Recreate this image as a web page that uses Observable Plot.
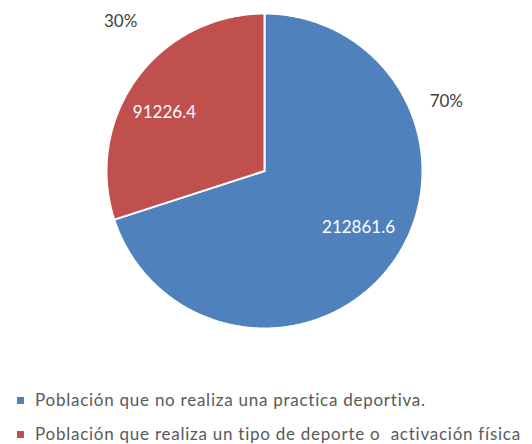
<!DOCTYPE html>
<html>
<head>
<meta charset="utf-8">
<script src="https://cdn.jsdelivr.net/npm/d3@7"></script>
<script src="https://cdn.jsdelivr.net/npm/@observablehq/plot@0.6"></script>
<style>
  html, body { margin: 0; padding: 0; background: #fff; }
  #chart svg { display: block; }
  .legend { font-family: Lato, "Open Sans", sans-serif; font-size: 17px; color: #595959; letter-spacing: 0.75px; padding-top: 10px; }
  .legend .item { height: 20px; line-height: 20px; padding-left: 17px; white-space: pre; }
  .legend .item + .item { margin-top: 14px; }
  .legend .sw { display: inline-block; width: 7px; height: 7px; margin-right: 11px; vertical-align: middle; position: relative; top: -1px; }
</style>
</head>
<body>
<div id="chart"></div>
<script>
const categories = [
  "Población que no realiza una practica deportiva.",
  "Población que realiza un tipo de deporte o  activación física"
];
const values = [212861.6, 91226.4];
const valueLabels = ["212861.6", "91226.4"];
const percentLabels = ["70%", "30%"];
const colors = ["#4F81BD", "#C0504D"];

const arcs = d3.pie().sort(null).value(d => d)(values);
const slices = arcs.map((a, i) => ({
  i, start: a.startAngle, end: a.endAngle, mid: (a.startAngle + a.endAngle) / 2,
  label: valueLabels[i], pct: percentLabels[i], category: categories[i]
}));

function slicePoints(s) {
  const pts = [{x: 0, y: 0}];
  const n = Math.max(2, Math.ceil((s.end - s.start) / (Math.PI / 360)));
  for (let k = 0; k <= n; k++) {
    const a = s.start + (s.end - s.start) * k / n;
    pts.push({x: Math.sin(a), y: Math.cos(a)});
  }
  pts.push({x: 0, y: 0});
  return pts;
}

const marks = [];
slices.forEach(s => {
  marks.push(Plot.line(slicePoints(s), {
    x: "x", y: "y", fill: colors[s.i], stroke: "white", strokeWidth: 2, curve: "linear-closed"
  }));
});

const valueOffsets = [{dx: 2, dy: -10}, {dx: -8, dy: 8}];
const pctOffsets = [{dx: 54, dy: -162}, {dx: -16, dy: -57}];
slices.forEach(s => {
  marks.push(Plot.text([s], {
    x: d => 0.72 * Math.sin(d.mid), y: d => 0.72 * Math.cos(d.mid),
    text: "label", fill: "white", fontSize: 17,
    dx: valueOffsets[s.i].dx, dy: valueOffsets[s.i].dy
  }));
  marks.push(Plot.text([s], {
    x: d => Math.sin(d.mid), y: d => Math.cos(d.mid),
    text: "pct", fill: "#404040", fontSize: 17,
    dx: pctOffsets[s.i].dx, dy: pctOffsets[s.i].dy
  }));
});

const chart = Plot.plot({
  width: 532,
  height: 380,
  margin: 0,
  style: {fontFamily: "Lato, 'Open Sans', sans-serif", background: "#fff"},
  x: {domain: [-1, 1], range: [106, 422], axis: null},
  y: {domain: [-1, 1], range: [328, 13], axis: null},
  marks
});
const root = document.getElementById("chart");
root.appendChild(chart);

const legend = document.createElement("div");
legend.className = "legend";
categories.forEach((c, i) => {
  const item = document.createElement("div");
  item.className = "item";
  const sw = document.createElement("span");
  sw.className = "sw";
  sw.style.background = colors[i];
  item.appendChild(sw);
  item.appendChild(document.createTextNode(c));
  legend.appendChild(item);
});
root.appendChild(legend);
</script>
</body>
</html>
